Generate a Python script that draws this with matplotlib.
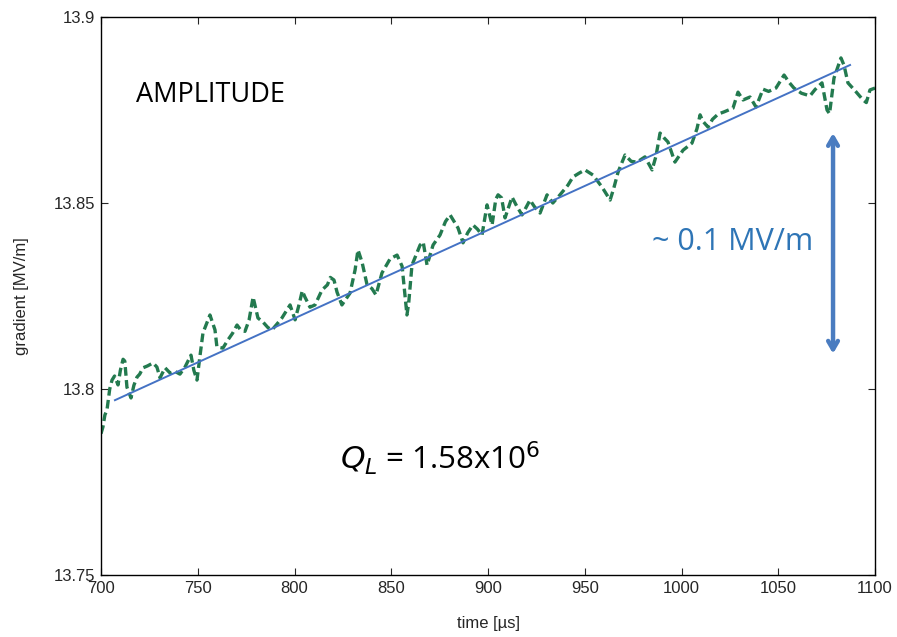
import numpy as np
import matplotlib.pyplot as plt

time_us = [700.0, 701.0, 702.0, 703.1, 704.5, 705.7, 707.0, 708.8, 710.0, 711.4,
           712.3, 713.4, 715.5, 717.0, 718.6, 720.0, 721.7, 724.0, 726.9, 728.9,
           730.5, 733.1, 735.7, 738.0, 740.8, 743.4, 746.5, 748.0, 749.6, 751.2,
           752.7, 754.5, 756.3, 758.9, 759.9, 763.0, 765.6, 768.0, 770.3, 772.0,
           774.4, 776.5, 778.6, 781.1, 783.7, 786.3, 788.4, 791.0, 793.5, 797.7,
           800.3, 802.5, 804.0, 805.4, 808.0, 810.6, 814.2, 817.0, 818.5, 820.4,
           822.0, 824.5, 828.7, 831.3, 832.8, 834.9, 837.5, 840.0, 842.1, 845.2,
           849.4, 853.0, 855.6, 857.1, 858.1, 859.0, 860.7, 864.9, 866.5, 868.5,
           871.6, 875.2, 878.0, 880.4, 884.5, 887.1, 889.5, 892.2, 894.5, 896.9,
           899.5, 902.1, 904.0, 905.2, 907.0, 908.8, 912.4, 915.0, 917.6, 921.7,
           924.0, 926.9, 930.5, 933.5, 937.2, 941.3, 943.9, 947.0, 950.1, 954.3,
           958.9, 963.1, 965.0, 967.2, 970.8, 974.0, 977.0, 981.1, 984.8, 986.8,
           988.9, 991.0, 993.0, 996.6, 1000.8, 1005.4, 1008.0, 1009.6, 1011.0, 1013.7,
           1016.0, 1018.9, 1022.0, 1026.6, 1029.2, 1031.8, 1035.4, 1038.5, 1042.1, 1045.0,
           1048.8, 1053.0, 1055.5, 1058.1, 1062.0, 1066.4, 1069.0, 1072.6, 1075.2, 1076.5,
           1078.8, 1082.4, 1084.0, 1086.0, 1090.0, 1093.8, 1095.5, 1097.4, 1100.0]
gradient = [13.7880, 13.7898, 13.7930, 13.7944, 13.8000, 13.8024, 13.8035, 13.8011, 13.8050, 13.8080,
            13.8075, 13.8005, 13.7976, 13.8010, 13.8032, 13.8040, 13.8057, 13.8062, 13.8070, 13.8059,
            13.8030, 13.8057, 13.8043, 13.8048, 13.8040, 13.8059, 13.8091, 13.8050, 13.8024, 13.8091,
            13.8151, 13.8175, 13.8199, 13.8159, 13.8113, 13.8110, 13.8132, 13.8150, 13.8172, 13.8160,
            13.8155, 13.8185, 13.8247, 13.8191, 13.8180, 13.8165, 13.8159, 13.8175, 13.8191, 13.8226,
            13.8186, 13.8230, 13.8264, 13.8247, 13.8220, 13.8226, 13.8266, 13.8280, 13.8300, 13.8293,
            13.8260, 13.8226, 13.8258, 13.8320, 13.8374, 13.8341, 13.8280, 13.8270, 13.8253, 13.8312,
            13.8350, 13.8360, 13.8330, 13.8250, 13.8199, 13.8230, 13.8333, 13.8387, 13.8395, 13.8333,
            13.8387, 13.8414, 13.8450, 13.8468, 13.8433, 13.8393, 13.8420, 13.8441, 13.8430, 13.8414,
            13.8495, 13.8441, 13.8510, 13.8522, 13.8514, 13.8460, 13.8516, 13.8490, 13.8468, 13.8508,
            13.8490, 13.8473, 13.8522, 13.8500, 13.8522, 13.8548, 13.8570, 13.8580, 13.8589, 13.8575,
            13.8543, 13.8508, 13.8540, 13.8583, 13.8629, 13.8612, 13.8610, 13.8624, 13.8589, 13.8626,
            13.8688, 13.8675, 13.8664, 13.8610, 13.8642, 13.8661, 13.8700, 13.8737, 13.8720, 13.8704,
            13.8725, 13.8739, 13.8745, 13.8755, 13.8798, 13.8777, 13.8785, 13.8758, 13.8806, 13.8800,
            13.8809, 13.8844, 13.8825, 13.8809, 13.8795, 13.8788, 13.8805, 13.8823, 13.8750, 13.8740,
            13.8836, 13.8890, 13.8870, 13.8823, 13.8800, 13.8777, 13.8770, 13.8804, 13.8809]

# linear fit end points
fit_t = [707.2, 1087.1]
fit_g = [13.7970, 13.8871]

axis_font = ['Liberation Sans', 'DejaVu Sans']

fig = plt.figure(figsize=(8.97, 6.37), dpi=100)
ax = fig.add_axes([0.1126, 0.0973, 0.8629, 0.876])

ax.plot(time_us, gradient, color='#237a4f', lw=2.4, ls=(0, (2.6, 1.3)))
ax.plot(fit_t, fit_g, color='#4472c4', lw=1.4)

ax.set_xlim(700, 1100)
ax.set_ylim(13.75, 13.9)
ax.set_xticks(np.arange(700, 1101, 50))
ax.set_yticks([13.75, 13.8, 13.85, 13.9])
ax.set_yticklabels(['13.75', '13.8', '13.85', '13.9'])
ax.tick_params(direction='in', length=5, top=True, right=True, labelsize=12, pad=4,
               colors='#262626')
for lab in ax.get_xticklabels() + ax.get_yticklabels():
    lab.set_family(axis_font)
for s in ax.spines.values():
    s.set_linewidth(1.0)

ax.set_xlabel('time [\u00b5s]', fontsize=12, family=axis_font, labelpad=15, color='#262626')
ax.set_ylabel('gradient [MV/m]', fontsize=12, family=axis_font, labelpad=18, color='#262626')

ax.text(718, 13.879, 'AMPLITUDE', fontsize=19.5, family='Open Sans', va='center', ha='left')
ax.text(823.5, 13.7815, r'$Q_L$ = 1.58x10$^6$', fontsize=22.5, family='Open Sans',
        va='center', ha='left', math_fontfamily='dejavusans')
ax.text(1026.6, 13.8395, '~ 0.1 MV/m', fontsize=22, family='Open Sans', color='#2e75b6',
        va='center', ha='center')

ax.annotate('', xy=(1078.3, 13.8688), xytext=(1078.3, 13.8095),
            arrowprops=dict(arrowstyle='<->,head_length=0.6,head_width=0.35',
                            color='#4a7cc0', lw=3.2, shrinkA=0, shrinkB=0))

fig.savefig('out.png', dpi=100)
